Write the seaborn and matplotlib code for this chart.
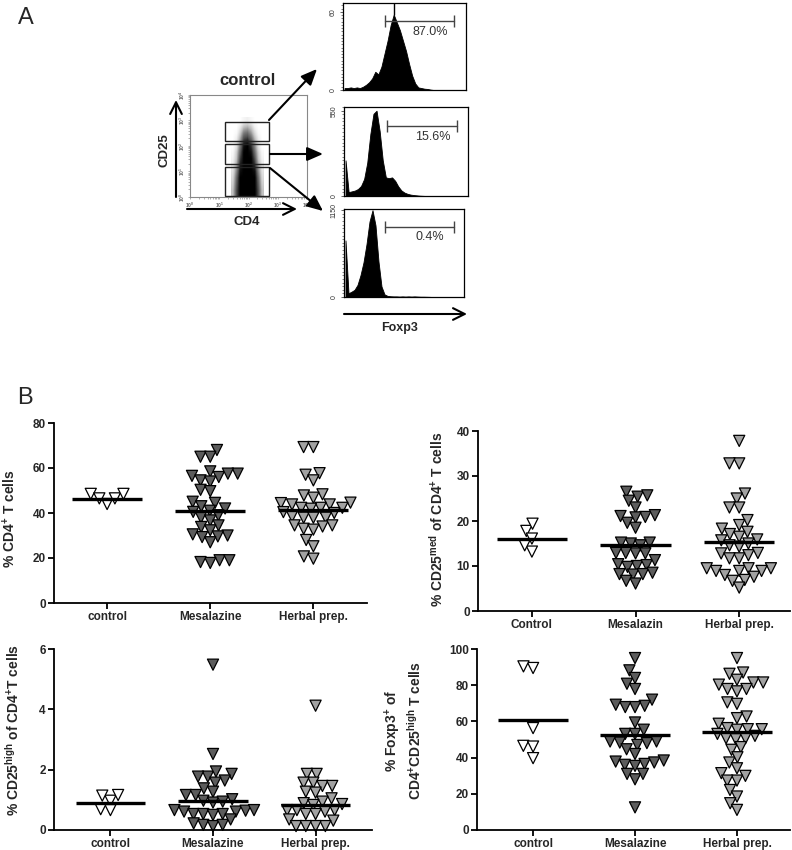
import warnings
import numpy as np
import pandas as pd
import matplotlib
matplotlib.use("Agg")
import matplotlib.pyplot as plt
import seaborn as sns
from matplotlib.patches import Rectangle
from matplotlib.ticker import MultipleLocator

warnings.filterwarnings("ignore", category=UserWarning)

W, H = 792, 850

# ---------------- panel B data ----------------
groups = ["control", "Mesalazine", "Herbal prep."]

cd4_control = [48.5, 46.5, 44, 46.5, 48.5]
cd4_mesalazine = [68, 65, 65, 58.5, 57.5, 56, 56.5, 57.5, 54.5, 54, 50.3, 49.7, 44.5, 45, 43,
                  40.5, 42, 41, 39, 38, 36.7, 34.5, 33.8, 32.3, 30, 29.3, 30.5, 29.6, 27,
                  19, 17.8, 18.2, 19]
cd4_herbal = [69.3, 69.3, 57, 57.7, 54.5, 48.3, 46.8, 47.8, 44.6, 43.8, 44.4, 43.8, 42.3, 41.9,
              42.3, 42.3, 40.4, 40, 37.9, 37.9, 38.5, 37.9, 34.5, 34, 34.5, 33, 32.6, 28, 25.2,
              19.7, 20.7]
cd4_lines = [46.3, 40.7, 41.2]

med_control = [17.8, 19.4, 13.2, 14.6, 16.1]
med_mesalazin = [26.5, 25.4, 24.5, 25.7, 23, 20.9, 19.6, 21.3, 20.8, 21.1, 18.5, 15, 15.2, 15.2,
                 14.6, 12.8, 12.9, 12.8, 12.9, 10.4, 10, 9.8, 10.2, 11.3, 8.1, 8.2, 8.5, 8.2,
                 6.1, 6.7]
med_herbal = [37.8, 32.8, 32.8, 26.1, 25, 23, 23, 20.2, 18.3, 19.1, 17.6, 16.5, 15.9, 17.1, 15.7,
              14.3, 14.6, 15, 12.8, 12.4, 12.9, 11.7, 11.7, 9.5, 8.9, 9.5, 8.9, 8.9, 9.5, 8,
              7.6, 6.9, 6.7, 5.2]
med_lines = [15.9, 14.7, 15.4]

high_control = [0.97, 1.16, 1.14, 0.66, 0.69]
high_mesalazine = [5.48, 2.52, 1.86, 1.77, 1.64, 1.77, 1.94, 1.57, 1.38, 1.16, 1.16, 1.27, 0.97,
                   0.91, 1.02, 0.94, 0.66, 0.61, 0.64, 0.61, 0.66, 0.53, 0.53, 0.53, 0.5, 0.17,
                   0.13, 0.17, 0.35, 0.22]
high_herbal = [4.12, 1.86, 1.86, 1.57, 1.57, 1.46, 1.46, 1.27, 1.24, 1.05, 0.94, 0.86, 0.89, 0.83,
               0.66, 0.66, 0.61, 0.66, 0.53, 0.53, 0.31, 0.35, 0.13, 0.13, 0.13, 0.13]
high_lines = [0.89, 0.97, 0.83]

foxp3_control = [89.5, 90.4, 56.3, 46.5, 46.1, 39.7]
foxp3_mesalazine = [95, 88.2, 80.8, 84, 77.9, 72, 68.6, 67.9, 67.9, 69.2, 59.4, 55.4, 53.1, 53.1,
                    48.3, 47, 48.9, 48, 48.9, 42, 44.6, 37.8, 36.5, 38.4, 36, 37.3, 31, 28, 31,
                    35.4, 12.5]
foxp3_herbal = [95, 87, 86.3, 80.3, 81.5, 83, 81.5, 77.9, 77.9, 76.6, 70.5, 69.7, 62.7, 61.8,
                55.7, 55.4, 58.7, 55.7, 56.3, 50.7, 50.2, 52, 53.1, 50.7, 44.3, 45.8, 37.3,
                40.2, 34.1, 31.4, 29.9, 27.3, 27.3, 22.1, 18.5, 14.8, 11.1]
foxp3_lines = [60.9, 52.6, 53.9]

# ---------------- panel A data ----------------
# CD4 x CD25 density (rows: CD25 decades 0..3 step .25, cols: CD4 decades 1.45..2.45)
cloud = [
    [0.35, 0.75, 1.00, 1.00, 1.00, 1.00, 1.00, 0.75, 0.35],
    [0.35, 0.75, 1.00, 1.00, 1.00, 1.00, 1.00, 0.75, 0.35],
    [0.30, 0.70, 1.00, 1.00, 1.00, 1.00, 1.00, 0.70, 0.30],
    [0.25, 0.65, 1.00, 1.00, 1.00, 1.00, 1.00, 0.65, 0.25],
    [0.20, 0.55, 0.95, 1.00, 1.00, 1.00, 0.95, 0.55, 0.20],
    [0.15, 0.45, 0.90, 1.00, 1.00, 1.00, 0.85, 0.45, 0.15],
    [0.10, 0.35, 0.80, 1.00, 1.00, 1.00, 0.75, 0.35, 0.10],
    [0.05, 0.30, 0.70, 1.00, 1.00, 0.95, 0.65, 0.30, 0.05],
    [0.00, 0.20, 0.60, 0.95, 1.00, 0.85, 0.55, 0.20, 0.00],
    [0.00, 0.15, 0.45, 0.80, 0.85, 0.70, 0.40, 0.15, 0.00],
    [0.00, 0.05, 0.30, 0.60, 0.65, 0.50, 0.25, 0.05, 0.00],
    [0.00, 0.00, 0.15, 0.35, 0.40, 0.30, 0.10, 0.00, 0.00],
    [0.00, 0.00, 0.00, 0.08, 0.12, 0.06, 0.00, 0.00, 0.00],
]
gate_cd4 = (1.2, 2.7)
gates_cd25 = [(2.2, 2.94), (1.29, 2.08), (0.04, 1.18)]

hist_high = [1.5, 1.5, 2, 1.5, 2, 1.5, 2.5, 4, 6, 9, 14, 12, 18, 28, 38, 50, 58, 52, 46, 38,
             30, 20, 11, 5, 2, 1.5, 1, 0.8, 0.3, 0, 0, 0, 0, 0, 0, 0, 0, 0, 0, 0]
hist_med = [230, 25, 30, 35, 45, 65, 110, 215, 400, 530, 550, 420, 230, 120, 115, 120, 98, 62,
            36, 22, 14, 9, 6, 4, 2, 1, 0, 0, 0, 0, 0, 0, 0, 0, 0, 0, 0, 0, 0, 0]
hist_low = [750, 50, 70, 95, 160, 290, 460, 700, 1000, 1150, 950, 470, 140, 35, 15, 10, 8, 8, 6,
            8, 6, 8, 6, 8, 6, 4, 4, 3, 2, 0, 0, 0, 0, 0, 0, 0, 0, 0, 0, 0]
hist_ticks = [60, 550, 1150]
hist_tops = [66.9, 574, 1166]
hist_gates = [(13.6, 36.1, 52.8), (14.0, 36.4, 450), (13.6, 36.6, 927)]
hist_pcts = ["87.0%", "15.6%", "0.4%"]

palette = {"control": "white", "Mesalazine": "#5c5c5c", "Herbal prep.": "#a2a2a2"}

sns.set_theme(style="ticks")
plt.rcParams["font.family"] = ["Liberation Sans", "DejaVu Sans"]
plt.rcParams["mathtext.fontset"] = "custom"
plt.rcParams["mathtext.rm"] = "Liberation Sans:bold"
plt.rcParams["mathtext.bf"] = "Liberation Sans:bold"
plt.rcParams["mathtext.default"] = "rm"

fig = plt.figure(figsize=(W / 100, H / 100), dpi=100, facecolor="white")


def px_axes(x0, y0, x1, y1):
    return fig.add_axes([x0 / W, 1 - y1 / H, (x1 - x0) / W, (y1 - y0) / H])


scatter_axes = []


def scatter_panel(rect, series, lines, ticks, ylabel, xlabels, xlim, label_xy):
    ax = px_axes(*rect)
    df = pd.DataFrame({
        "group": np.repeat(groups, [len(s) for s in series]),
        "value": np.concatenate(series),
    })
    # swarm with a compact footprint; markers are enlarged after layout
    sns.swarmplot(data=df, x="group", y="value", hue="group", order=groups,
                  hue_order=groups, palette=palette, marker="v", size=5.8,
                  edgecolor="black", linewidth=0.9, legend=False, ax=ax, zorder=2)
    for i, m in enumerate(lines):
        ax.hlines(m, i - 0.34, i + 0.34, color="black", lw=2.4, zorder=4)
    ax.set_ylim(ticks[0], ticks[-1])
    ax.set_yticks(ticks)
    ax.set_xlim(*xlim)
    ax.set_xticks(range(3), xlabels)
    ax.set_xlabel("")
    ax.set_ylabel(ylabel, fontsize=10, fontweight="bold")
    ax.yaxis.set_label_coords(*label_xy)
    sns.despine(ax=ax)
    for sp in ("left", "bottom"):
        ax.spines[sp].set_linewidth(1.3)
        ax.spines[sp].set_color("black")
    ax.tick_params(axis="both", width=1.3, length=4, color="black", labelsize=8.5, pad=2)
    for lbl in ax.get_xticklabels() + ax.get_yticklabels():
        lbl.set_fontweight("bold")
    for coll in ax.collections:
        coll.set_clip_on(False)
    scatter_axes.append(ax)
    return ax


scatter_panel((54, 423, 367, 603), [cd4_control, cd4_mesalazine, cd4_herbal], cd4_lines,
              [0, 20, 40, 60, 80], r"% CD4$^{+}$ T cells", groups, (-0.515, 2.52),
              (-0.115, 0.47))
scatter_panel((478, 431, 790, 611), [med_control, med_mesalazin, med_herbal], med_lines,
              [0, 10, 20, 30, 40], r"% CD25$^{med}$ of CD4$^{+}$ T cells",
              ["Control", "Mesalazin", "Herbal prep."], (-0.52, 2.49), (-0.105, 0.51))
scatter_panel((54, 649, 372, 830), [high_control, high_mesalazine, high_herbal], high_lines,
              [0, 2, 4, 6], r"% CD25$^{high}$ of CD4$^{+}$T cells", groups, (-0.55, 2.55),
              (-0.10, 0.55))
scatter_panel((477, 649, 790, 830), [foxp3_control, foxp3_mesalazine, foxp3_herbal], foxp3_lines,
              [0, 20, 40, 60, 80, 100], "% Foxp3$^{+}$ of\nCD4$^{+}$CD25$^{high}$ T cells",
              groups, (-0.55, 2.52), (-0.17, 0.55))

# ---------------- panel A: dot plot ----------------
ax = px_axes(190, 95, 307, 197)
ax.imshow(np.array(cloud), extent=(1.3875, 2.5125, -0.125, 3.125), origin="lower",
          cmap="Greys", vmin=0, vmax=1, interpolation="bilinear", aspect="auto")
for lo, hi in gates_cd25:
    ax.add_patch(Rectangle((gate_cd4[0], lo), gate_cd4[1] - gate_cd4[0], hi - lo,
                           fill=False, edgecolor="#222222", lw=1.0, zorder=3))
ax.set_xlim(0, 4)
ax.set_ylim(0, 4)
decades = range(5)
minors = [d + np.log10(k) for d in range(4) for k in range(2, 10)]
ax.set_xticks(decades, [f"$10^{{{d}}}$" for d in decades])
ax.set_yticks(decades, [f"$10^{{{d}}}$" for d in decades])
ax.set_xticks(minors, minor=True)
ax.set_yticks(minors, minor=True)
ax.tick_params(which="both", length=1.5, width=0.4, color="#777777", labelsize=3.5,
               labelcolor="#666666", pad=1)
for lbl in ax.get_yticklabels():
    lbl.set_rotation(90)
    lbl.set_va("center")
for sp in ax.spines.values():
    sp.set_color("#888888")
    sp.set_linewidth(0.8)

# ---------------- panel A: Foxp3 histograms ----------------
hist_rects = [(343, 3, 466, 90), (344, 107, 468, 196), (344, 209, 464, 297)]
for rect, counts, tick, top, gate, pct in zip(hist_rects, [hist_high, hist_med, hist_low],
                                              hist_ticks, hist_tops, hist_gates, hist_pcts):
    ax = px_axes(*rect)
    hist_df = pd.DataFrame({"channel": np.arange(len(counts)) + 0.5,
                            "events": np.asarray(counts, dtype=float)})
    sns.histplot(data=hist_df, x="channel", weights="events", bins=len(counts),
                 binrange=(0, len(counts)), element="poly", fill=True,
                 color="black", alpha=1, linewidth=0.6, edgecolor="black", ax=ax)
    ax.set_xlim(0, len(counts))
    ax.set_ylim(0, top)
    ax.set_xticks([])
    ax.set_xlabel("")
    ax.set_ylabel("")
    ax.set_yticks([0, tick], ["0", str(tick)])
    ax.yaxis.set_minor_locator(MultipleLocator(tick / 24))
    ax.tick_params(axis="y", which="major", length=2.5, width=0.5, labelsize=5,
                   labelcolor="#333333", pad=2)
    ax.tick_params(axis="y", which="minor", length=1.5, width=0.4)
    for lbl in ax.get_yticklabels():
        lbl.set_rotation(90)
        lbl.set_va("center")
    for sp in ax.spines.values():
        sp.set_color("black")
        sp.set_linewidth(0.9)
    g0, g1, gy = gate
    ax.plot([g0, g1], [gy, gy], color="#444444", lw=1.0)
    ax.vlines([g0, g1], gy - top * 0.07, gy + top * 0.07, color="#444444", lw=1.0)
    ax.text((g0 + g1) / 2 + 3.5, gy - top * 0.05, pct, ha="center", va="top",
            fontsize=9, color="#333333")
    if tick == hist_ticks[0]:
        ax.vlines(16.6, 58, top, color="black", lw=1.0)

# ---------------- overlay: labels & arrows ----------------
ov = fig.add_axes([0, 0, 1, 1])
ov.set_xlim(0, W)
ov.set_ylim(H, 0)
ov.axis("off")
ov.patch.set_visible(False)

ov.text(26, 18, "A", fontsize=17, ha="center", va="center")
ov.text(25, 398, "B", fontsize=17, ha="center", va="center")
ov.text(247, 80, "control", fontsize=12, fontweight="bold", ha="center", va="center")
ov.text(247, 222, "CD4", fontsize=9.5, fontweight="bold", ha="center", va="center")
ov.text(165, 150, "CD25", fontsize=9.5, fontweight="bold", ha="center", va="center",
        rotation=90)
ov.text(400, 328, "Foxp3", fontsize=9, fontweight="bold", ha="center", va="center")

open_arrow = dict(arrowstyle="->,head_length=0.7,head_width=0.35", lw=1.5, color="black",
                  shrinkA=0, shrinkB=0)
ov.annotate("", xy=(176, 100), xytext=(176, 197), arrowprops=open_arrow)
ov.annotate("", xy=(297, 209), xytext=(187, 209), arrowprops=open_arrow)
ov.annotate("", xy=(467, 314), xytext=(344, 314), arrowprops=open_arrow)

solid_arrow = dict(arrowstyle="-|>,head_length=0.8,head_width=0.35", lw=1.5, color="black",
                   shrinkA=0, shrinkB=0)
ov.annotate("", xy=(317, 69), xytext=(269, 120), arrowprops=solid_arrow)
ov.annotate("", xy=(323, 154), xytext=(270, 154), arrowprops=solid_arrow)
ov.annotate("", xy=(323, 211), xytext=(270, 168), arrowprops=solid_arrow)

# lay out the swarms once, then freeze them and draw the triangles at full size
fig.canvas.draw()
for ax in scatter_axes:
    for coll in ax.collections:
        if "draw" in coll.__dict__:
            del coll.draw
            coll.set_sizes([8.0 ** 2])

fig.savefig("out.png", dpi=100, facecolor="white")
